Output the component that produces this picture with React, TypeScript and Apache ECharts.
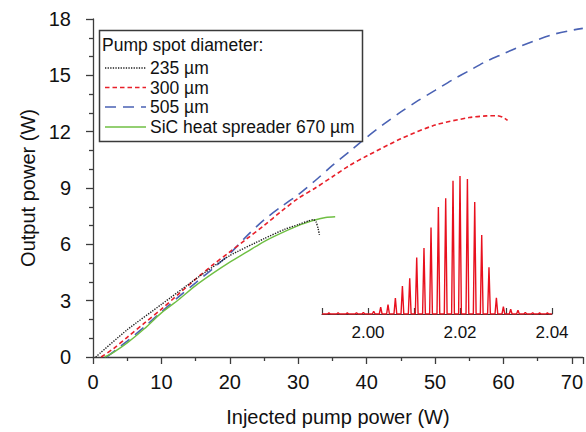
import React, { useEffect, useRef } from "react";
import * as echarts from "echarts";

// Main plot: output power (W) vs injected pump power (W)
const x235 = [0.4, 5, 10, 15, 20, 25, 28, 30, 31.5, 32.2, 32.6, 32.9, 33.1];
const y235 = [0, 1.45, 2.8, 4.15, 5.4, 6.3, 6.8, 7.05, 7.25, 7.32, 7.2, 6.85, 6.5];

const x300 = [1.2, 3, 5, 7.5, 10, 12.5, 15, 17.5, 20, 22.5, 25, 27.5, 30, 32.5, 35, 37.5, 40, 45, 50, 55, 57.5, 59, 60, 60.6];
const y300 = [0, 0.45, 1.05, 1.8, 2.55, 3.35, 4.15, 4.9, 5.6, 6.3, 7.0, 7.75, 8.45, 9.0, 9.6, 10.2, 10.7, 11.62, 12.35, 12.75, 12.84, 12.85, 12.75, 12.6];

const x505 = [2, 5, 7.5, 10, 12.5, 15, 17.5, 20, 22.5, 25, 27.5, 30, 32.5, 35, 37.5, 40, 42.5, 45, 47.5, 50, 52.5, 55, 57.5, 60, 62.5, 65, 67.5, 70, 71.6];
const y505 = [0, 0.85, 1.6, 2.4, 3.2, 3.95, 4.7, 5.5, 6.45, 7.3, 8.0, 8.65, 9.4, 10.2, 10.95, 11.7, 12.4, 13.05, 13.65, 14.2, 14.75, 15.25, 15.75, 16.15, 16.55, 16.9, 17.2, 17.4, 17.5];

const xSiC = [1.7, 3, 5, 7.5, 10, 12.5, 15, 17.5, 20, 22.5, 25, 27.5, 30, 32, 33, 34, 35.4];
const ySiC = [0, 0.25, 0.75, 1.5, 2.35, 3.05, 3.8, 4.45, 5.05, 5.6, 6.15, 6.6, 7.0, 7.25, 7.35, 7.43, 7.47];

// Inset: laser spectrum, wavelength (µm) and normalised peak heights
const peakWavelengths = [
  1.9915, 1.9935, 1.9955, 1.9975, 1.9990, 2.00124, 2.00276, 2.00435, 2.00595, 2.00748, 2.00907,
  2.01059, 2.01217, 2.0137, 2.0153, 2.01689, 2.01848, 2.0200, 2.02161, 2.0232,
  2.02472, 2.0263, 2.02791, 2.02943, 2.03102, 2.0326, 2.0342, 2.0358, 2.0373, 2.0390,
];
const peakHeights = [
  0.008, 0.01, 0.008, 0.01, 0.012, 0.02, 0.05, 0.068, 0.116, 0.203, 0.258,
  0.41, 0.478, 0.626, 0.775, 0.838, 0.966, 1.0, 0.978, 0.812,
  0.572, 0.338, 0.118, 0.053, 0.034, 0.027, 0.012, 0.01, 0.008, 0.008,
];

const xTicksMain = [0, 10, 20, 30, 40, 50, 60, 70];
const yTicksMain = [0, 3, 6, 9, 12, 15, 18];
const insetTickLabels = ["2.00", "2.02", "2.04"];

const legendTitle = "Pump spot diameter:";
const legendNames = ["235 µm", "300 µm", "505 µm", "SiC heat spreader 670 µm"];

const FONT = "'Liberation Sans', Arial, Helvetica, sans-serif";
const AXIS = "#3c3c3c";
const C_BLACK = "#1e1e1e";
const C_RED = "#e8202a";
const C_BLUE = "#4a62b4";
const C_GREEN = "#6fbf43";

const zip = (xs: number[], ys: number[]) => xs.map((x, i) => [x, ys[i]]);

function buildSpectrum() {
  const w = 0.0003;
  const pts: number[][] = [[1.99, 0]];
  peakWavelengths.forEach((p, i) => {
    pts.push([p - w, 0], [p, peakHeights[i]], [p + w, 0]);
  });
  pts.push([2.04, 0]);
  return pts;
}

export default function App() {
  const ref = useRef<HTMLDivElement>(null);
  useEffect(() => {
    if (!ref.current) return;
    const chart = echarts.init(ref.current, undefined, { renderer: "svg" });
    const styles = [
      { color: C_BLACK, type: [1.3, 1.3], width: 1.4 },
      { color: C_RED, type: [4.5, 3], width: 1.6 },
      { color: C_BLUE, type: [11, 7], width: 1.6 },
      { color: C_GREEN, type: "solid", width: 1.4 },
    ];
    const legendY = [68, 87.5, 107, 127];
    const legendGraphics: any[] = [
      {
        type: "rect",
        shape: { x: 99.5, y: 30.5, width: 263, height: 111 },
        style: { fill: "#fff", stroke: "#3a3a3a", lineWidth: 1.5 },
        z: 100,
      },
      {
        type: "text",
        x: 102,
        y: 45,
        style: { text: legendTitle, font: `17.5px ${FONT}`, fill: "#111", verticalAlign: "middle" },
        z: 101,
      },
    ];
    legendNames.forEach((n, i) => {
      legendGraphics.push({
        type: "line",
        shape: { x1: 105, y1: legendY[i], x2: 146, y2: legendY[i] },
        style: {
          stroke: styles[i].color,
          lineWidth: styles[i].width,
          lineDash: styles[i].type === "solid" ? null : styles[i].type,
        },
        z: 101,
      });
      legendGraphics.push({
        type: "text",
        x: 150,
        y: legendY[i],
        style: { text: n, font: `17.5px ${FONT}`, fill: "#111", verticalAlign: "middle" },
        z: 101,
      });
    });

    const option: any = {
      animation: false,
      backgroundColor: "#fff",
      textStyle: { fontFamily: FONT },
      grid: [
        { left: 93, top: 19, width: 493, height: 344, containLabel: false },
        { left: 322, top: 176, width: 230, height: 138, containLabel: false },
      ],
      xAxis: [
        {
          type: "value",
          gridIndex: 0,
          min: 0,
          max: 71.6,
          interval: 10,
          name: "Injected pump power (W)",
          nameLocation: "middle",
          nameGap: 50,
          nameTextStyle: { fontSize: 20, color: "#111", fontFamily: FONT },
          axisLine: { show: true, onZero: false, lineStyle: { color: AXIS, width: 1.3 } },
          axisTick: { show: true, inside: false, length: 7, lineStyle: { color: AXIS, width: 1.3 } },
          minorTick: { show: true, splitNumber: 2, length: 4, lineStyle: { color: AXIS, width: 1.3 } },
          splitLine: { show: false },
          axisLabel: {
            fontSize: 20,
            color: "#111",
            margin: 15,
            fontFamily: FONT,
            showMaxLabel: false,
            formatter: (v: number) => (xTicksMain.includes(v) ? String(v) : ""),
          },
        },
        {
          type: "value",
          gridIndex: 1,
          min: 1.99,
          max: 2.04,
          interval: 0.01,
          axisLine: { show: true, onZero: false, lineStyle: { color: AXIS, width: 1.2 } },
          axisTick: { show: true, inside: true, length: 6, lineStyle: { color: AXIS, width: 1.2 } },
          splitLine: { show: false },
          axisLabel: {
            fontSize: 17,
            color: "#111",
            margin: 10,
            fontFamily: FONT,
            showMinLabel: true,
            formatter: (v: number) => {
              const s = v.toFixed(2);
              return insetTickLabels.includes(s) ? s : "";
            },
          },
        },
      ],
      yAxis: [
        {
          type: "value",
          gridIndex: 0,
          min: 0,
          max: 18,
          interval: 3,
          name: "Output power (W)",
          nameLocation: "middle",
          nameGap: 53,
          nameRotate: 90,
          nameTextStyle: { fontSize: 20, color: "#111", fontFamily: FONT },
          axisLine: { show: true, onZero: false, lineStyle: { color: AXIS, width: 1.3 } },
          axisTick: { show: true, inside: false, length: 7, lineStyle: { color: AXIS, width: 1.3 } },
          minorTick: { show: true, splitNumber: 3, length: 4, lineStyle: { color: AXIS, width: 1.3 } },
          splitLine: { show: false },
          axisLabel: {
            fontSize: 20,
            color: "#111",
            margin: 22,
            fontFamily: FONT,
            formatter: (v: number) => (yTicksMain.includes(v) ? String(v) : ""),
          },
        },
        {
          type: "value",
          gridIndex: 1,
          min: 0,
          max: 1,
          show: false,
        },
      ],
      series: [
        {
          name: legendNames[1],
          type: "line",
          xAxisIndex: 0,
          yAxisIndex: 0,
          data: zip(x300, y300),
          symbol: "none",
          smooth: 0.3,
          lineStyle: { color: C_RED, type: styles[1].type, width: styles[1].width },
          z: 3,
        },
        {
          name: legendNames[2],
          type: "line",
          xAxisIndex: 0,
          yAxisIndex: 0,
          data: zip(x505, y505),
          symbol: "none",
          smooth: 0.3,
          lineStyle: { color: C_BLUE, type: styles[2].type, width: styles[2].width },
          z: 2,
        },
        {
          name: legendNames[3],
          type: "line",
          xAxisIndex: 0,
          yAxisIndex: 0,
          data: zip(xSiC, ySiC),
          symbol: "none",
          smooth: 0.3,
          lineStyle: { color: C_GREEN, type: "solid", width: styles[3].width },
          z: 2,
        },
        {
          name: legendNames[0],
          type: "line",
          xAxisIndex: 0,
          yAxisIndex: 0,
          data: zip(x235, y235),
          symbol: "none",
          smooth: 0.2,
          lineStyle: { color: C_BLACK, type: styles[0].type, width: styles[0].width },
          z: 4,
        },
        {
          name: "spectrum",
          type: "line",
          xAxisIndex: 1,
          yAxisIndex: 1,
          data: buildSpectrum(),
          symbol: "none",
          lineStyle: { color: "#e8101e", width: 1.4 },
          z: 5,
        },
      ],
      graphic: legendGraphics,
    };
    chart.setOption(option);
    return () => chart.dispose();
  }, []);
  return (
    <div
      ref={ref}
      style={{ position: "fixed", left: 0, top: 0, width: 586, height: 432, background: "#fff" }}
    />
  );
}
